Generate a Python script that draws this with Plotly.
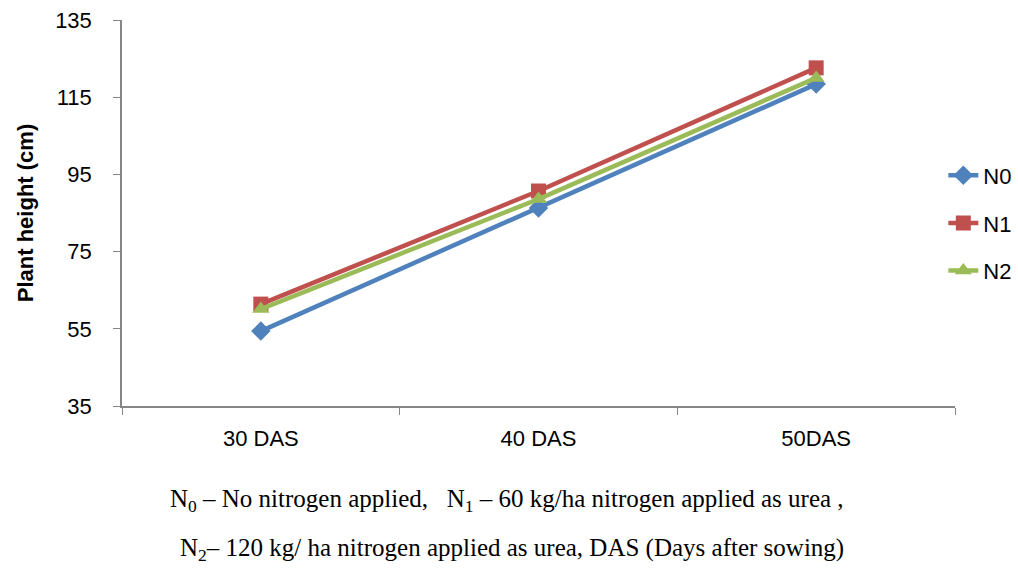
import plotly.graph_objects as go

categories = ["30 DAS", "40 DAS", "50DAS"]
n0 = [54.4, 86.3, 118.4]
n1 = [61.4, 90.7, 122.6]
n2 = [60.1, 88.6, 120.0]
series_names = ["N0", "N1", "N2"]
colors = ["#4F81BD", "#C0504D", "#9BBB59"]
symbols = ["diamond", "square", "triangle-up"]
y_ticks = [35, 55, 75, 95, 115, 135]

fig = go.Figure()
for name, vals, col, sym in zip(series_names, [n0, n1, n2], colors, symbols):
    fig.add_trace(go.Scatter(
        x=categories, y=vals, name=name, mode="lines+markers",
        legendgroup=name,
        line=dict(color=col, width=4.5),
        marker=dict(symbol=sym, size=15, color=col),
    ))

fig.update_layout(
    width=1018, height=578,
    margin=dict(l=122, r=63, t=20, b=172, autoexpand=False),
    paper_bgcolor="white", plot_bgcolor="white",
    font=dict(family="Liberation Sans, Arial", size=22, color="#000000"),
    showlegend=True,
    legend=dict(x=0.986, y=0.474, xanchor="left", yanchor="middle",
                font=dict(size=22), tracegroupgap=16, itemwidth=30,
                bgcolor="rgba(0,0,0,0)"),
    xaxis=dict(type="category", range=[-0.5, 2.5], showline=True, linecolor="#868686",
               linewidth=1.5, ticks="outside", tickson="boundaries", ticklen=7,
               tickcolor="#868686", showgrid=False, zeroline=False, automargin=False,
               ticklabelstandoff=12, tickfont=dict(size=22)),
    yaxis=dict(range=[35, 135], tickvals=y_ticks, showline=True, linecolor="#868686",
               linewidth=1.5, ticks="outside", ticklen=7, tickcolor="#868686",
               showgrid=False, zeroline=False, tickfont=dict(size=22), automargin=False,
               ticklabelstandoff=17,
               title=dict(text="<b>Plant height (cm)</b>", font=dict(size=22), standoff=15)),
)

cap_font = dict(family="Liberation Serif, Times New Roman", size=25, color="#000000")
fig.add_annotation(xref="paper", yref="paper", x=0.462, y=-0.289, showarrow=False, font=cap_font,
                   text="N<sub>0</sub> – No nitrogen applied,&nbsp;&nbsp; N<sub>1</sub> – 60 kg/ha nitrogen applied as urea ,")
fig.add_annotation(xref="paper", yref="paper", x=0.468, y=-0.417, showarrow=False, font=cap_font,
                   text="N<sub>2</sub>– 120 kg/ ha nitrogen applied as urea, DAS (Days after sowing)")

fig.write_html("out.html")
